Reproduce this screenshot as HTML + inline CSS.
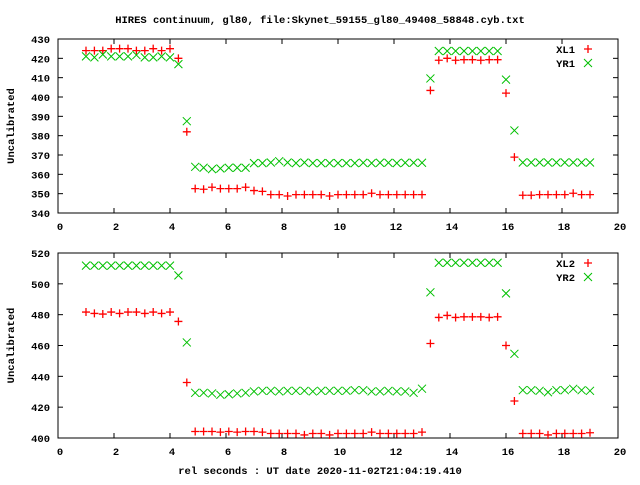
<!DOCTYPE html>
<html><head><meta charset="utf-8"><style>
body{margin:0;background:#fff;}
svg text{font-family:"Liberation Mono",monospace;font-size:10.5px;font-weight:bold;fill:#000;}
</style></head><body>
<svg id="c" width="640" height="480" xmlns="http://www.w3.org/2000/svg">
<rect width="640" height="480" fill="#fff"/>
<text x="320" y="23" text-anchor="middle">HIRES continuum, gl80, file:Skynet_59155_gl80_49408_58848.cyb.txt</text>
<text x="320" y="474" text-anchor="middle">rel seconds : UT date 2020-11-02T21:04:19.410</text>
</svg>
<script>
const xTicks=[0,2,4,6,8,10,12,14,16,18,20];
const topYTicks=[340,350,360,370,380,390,400,410,420,430];
const botYTicks=[400,420,440,460,480,500,520];
const xl1=[424,424,424,425,425,425,424,424,425,424,425,420,382,352.6,352.3,353.3,352.6,352.6,352.6,353.3,351.6,351.2,349.5,349.5,348.8,349.5,349.5,349.5,349.5,348.8,349.5,349.5,349.5,349.5,350.2,349.5,349.5,349.5,349.5,349.5,349.5,403.4,419,420,419,419.3,419.3,419,419.3,419.3,402,368.9,349.2,349.2,349.5,349.5,349.5,349.5,350.2,349.5,349.5];
const yr1=[421,420.5,422,421,421,421,421.7,420.5,420.5,421,420.5,417,387.5,363.9,363.4,362.7,363,363.4,363.4,363.4,365.8,365.8,366.1,366.8,366.1,365.8,366.1,365.8,365.8,365.8,365.8,365.8,365.8,366,365.8,366,366,365.8,366,366,366,409.6,423.8,423.8,423.8,423.8,423.8,423.8,423.8,423.8,409,382.7,366.1,366.1,366.1,366.1,366.1,366.1,366.1,366.1,366.1];
const xl2=[481.7,480.8,480.4,481.7,480.8,481.7,481.7,480.8,481.7,480.8,481.7,475.6,436,404.2,404.2,404.2,403.8,404.2,403.8,404.2,404.2,403.8,402.9,402.9,402.9,402.9,402,402.9,402.9,402,402.9,402.9,402.9,402.9,403.8,402.9,402.9,402.9,402.9,402.9,403.8,461.3,478.2,479.5,478.2,478.6,478.6,478.6,478.2,478.6,460,424,402.9,402.9,402.9,402,402.9,402.9,402.9,402.9,403.4];
const yr2=[511.8,511.8,511.8,511.8,511.8,511.8,511.8,511.8,511.8,511.8,511.8,505.5,462,429.3,429.3,428.9,428,428.4,428.9,429.3,430.2,430.6,430.6,430.2,430.6,430.6,430.6,430.2,430.6,430.6,430.6,430.6,431,431,430.2,430.2,430.6,430.2,430.2,429.3,432,494.5,513.7,513.7,513.7,513.7,513.7,513.7,513.7,513.7,493.8,454.6,431,431,430.6,429.7,431,431,431.9,431,430.6];
const NS="http://www.w3.org/2000/svg";
const svg=document.getElementById('c');
function mk(t,a){const e=document.createElementNS(NS,t);for(const k in a)e.setAttribute(k,a[k]);svg.appendChild(e);return e;}
function panel(id,top,bot,ymin,ymax,yt,s1,s2,n1,n2){
  const L=58,R=618;
  const sx=v=>L+(v-0)/20*(R-L);
  const sy=v=>bot-(v-ymin)/(ymax-ymin)*(bot-top);
  const f=mk('rect',{x:L,y:top,width:R-L,height:bot-top,fill:'none',stroke:'#000','stroke-width':1});
  
  
  xTicks.forEach(v=>{
    const x=sx(v);
    mk('line',{x1:x,y1:bot,x2:x,y2:bot-5,stroke:'#000'});
    mk('line',{x1:x,y1:top,x2:x,y2:top+5,stroke:'#000'});
    const t=mk('text',{x:x+2,y:bot+17,'text-anchor':'middle'});t.textContent=v;
    
    
  });
  yt.forEach(v=>{
    const y=sy(v);
    mk('line',{x1:L,y1:y,x2:L+5,y2:y,stroke:'#000'});
    mk('line',{x1:R,y1:y,x2:R-5,y2:y,stroke:'#000'});
    const t=mk('text',{x:50,y:y+4,'text-anchor':'end'});t.textContent=v;
    
    
  });
  const yl=mk('text',{x:0,y:0,'text-anchor':'middle',transform:`translate(14,${(top+bot)/2}) rotate(-90)`});
  yl.textContent='Uncalibrated';
  
  
  function plus(x,y,nm){const g=mk('path',{d:`M${x-4},${y}h8M${x},${y-4}v8`,stroke:'#ff0000','stroke-width':1.3,fill:'none'});
    
    }
  function cross(x,y,nm){const g=mk('path',{d:`M${x-4},${y-4}l8,8M${x-4},${y+4}l8,-8`,stroke:'#00c000','stroke-width':1,fill:'none'});
    
    }
  s1.forEach((v,i)=>plus(sx(1+0.3*i),sy(v),n1.toLowerCase()+'-point'));
  s2.forEach((v,i)=>cross(sx(1+0.3*i),sy(v),n2.toLowerCase()+'-point'));
  const t1=mk('text',{x:575,y:top+14,'text-anchor':'end'});t1.textContent=n1;
  
  
  const t2=mk('text',{x:575,y:top+28,'text-anchor':'end'});t2.textContent=n2;
  
  
  plus(588,top+10,id+'-legend-marker-1');
  cross(588,top+24,id+'-legend-marker-2');
}
panel('top',39,213,340,430,topYTicks,xl1,yr1,'XL1','YR1');
panel('bottom',253,438,400,520,botYTicks,xl2,yr2,'XL2','YR2');
</script>
</body></html>
